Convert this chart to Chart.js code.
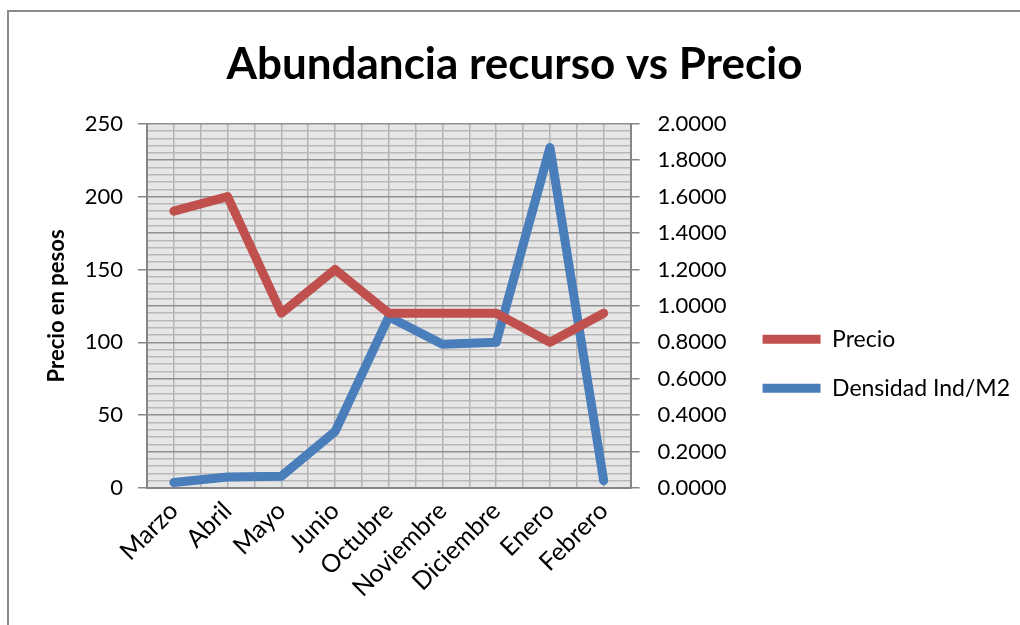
<!DOCTYPE html>
<html>
<head>
<meta charset="utf-8">
<script src="https://cdn.jsdelivr.net/npm/chart.js@4.4.0/dist/chart.umd.min.js"></script>
<style>
  html, body { margin: 0; padding: 0; background: #fff; overflow: hidden; }
  .frame {
    position: absolute; left: 7px; top: 10px;
    width: 1030px; height: 640px;
    border: 2px solid #8a8a8a; box-sizing: border-box;
  }
  .wrap { position: absolute; left: 0; top: 0; width: 1011px; height: 613px; }
</style>
</head>
<body>
<div class="frame">
  <div class="wrap"><canvas id="chart"></canvas></div>
</div>
<script>
const months = ['Marzo', 'Abril', 'Mayo', 'Junio', 'Octubre', 'Noviembre', 'Diciembre', 'Enero', 'Febrero'];
const precio = [190, 200, 120, 150, 120, 120, 120, 100, 120];
const densidad = [0.03, 0.06, 0.065, 0.31, 0.94, 0.79, 0.80, 1.87, 0.04];
const precioTicks = [0, 50, 100, 150, 200, 250];
const densidadTicks = [0, 0.2, 0.4, 0.6, 0.8, 1.0, 1.2, 1.4, 1.6, 1.8, 2.0];

const FONT = 'Lato, "Open Sans", sans-serif';
const axisGray = '#868686';

const plotBackground = {
  id: 'plotBackground',
  beforeDraw(chart) {
    const a = chart.chartArea;
    const ctx = chart.ctx;
    ctx.save();
    ctx.fillStyle = '#e6e6e6';
    ctx.fillRect(a.left, a.top, a.right - a.left, a.bottom - a.top);
    ctx.restore();
  }
};

new Chart(document.getElementById('chart'), {
  type: 'line',
  data: {
    labels: months,
    datasets: [
      {
        label: 'Precio',
        data: precio,
        yAxisID: 'y',
        borderColor: '#c0504d',
        backgroundColor: '#c0504d',
        borderWidth: 9,
        borderCapStyle: 'round',
        borderJoinStyle: 'round',
        pointRadius: 0,
        tension: 0
      },
      {
        label: 'Densidad Ind/M2',
        data: densidad,
        yAxisID: 'y2',
        borderColor: '#4a7ebb',
        backgroundColor: '#4a7ebb',
        borderWidth: 9,
        borderCapStyle: 'round',
        borderJoinStyle: 'round',
        pointRadius: 0,
        tension: 0
      }
    ]
  },
  options: {
    responsive: true,
    maintainAspectRatio: false,
    animation: false,
    layout: { padding: { left: 0, right: 0, top: 0, bottom: 0 } },
    plugins: {
      title: {
        display: true,
        text: 'Abundancia recurso vs Precio',
        color: '#000',
        font: { family: FONT, size: 44, weight: 'bold' },
        padding: { top: 26, bottom: 33 }
      },
      legend: {
        position: 'right',
        align: 'center',
        maxWidth: 400,
        title: { display: true, text: '', padding: { top: 0, bottom: 76 } },
        labels: {
          color: '#000',
          font: { family: FONT, size: 23 },
          usePointStyle: true,
          pointStyle: 'line',
          pointStyleWidth: 58,
          boxHeight: 9,
          padding: 26
        }
      },
      tooltip: { enabled: false }
    },
    scales: {
      x: {
        type: 'category',
        offset: true,
        grid: { offset: true, color: '#b3b3b3', lineWidth: 1.5, drawTicks: false },
        border: { color: axisGray, width: 2 },
        ticks: {
          color: '#000',
          font: { family: FONT, size: 25 },
          maxRotation: 45, minRotation: 45,
          autoSkip: false,
          padding: 8
        },
        afterFit(s) { s.height = 137; }
      },
      xMinor: {
        type: 'category',
        offset: true,
        display: true,
        grid: { offset: false, color: '#b3b3b3', lineWidth: 1.5, drawTicks: false },
        border: { display: false },
        ticks: { display: false },
        afterFit(s) { s.height = 0; }
      },
      y: {
        type: 'linear',
        position: 'left',
        min: 0, max: 250,
        afterBuildTicks(s) { s.ticks = precioTicks.map(v => ({ value: v })); },
        grid: { drawOnChartArea: false, drawTicks: true, tickLength: 9, color: axisGray, lineWidth: 1.5 },
        border: { color: axisGray, width: 2 },
        ticks: { color: '#000', font: { family: FONT, size: 22 }, padding: 15 },
        title: {
          display: true,
          text: 'Precio en pesos',
          color: '#000',
          font: { family: FONT, size: 22, weight: 'bold' },
          padding: { top: 35, bottom: 0 }
        },
        afterFit(s) { s.width = 138; }
      },
      yMinor: {
        type: 'linear',
        position: 'left',
        min: 0, max: 2,
        display: true,
        ticks: { display: false, stepSize: 0.04, maxTicksLimit: 100, autoSkip: false },
        grid: {
          drawTicks: false,
          lineWidth: 1.5,
          color(ctx) { return ctx.index % 5 === 0 ? '#8f8f8f' : '#b8b8b8'; }
        },
        border: { display: false },
        afterFit(s) { s.width = 0; }
      },
      y2: {
        type: 'linear',
        position: 'right',
        min: 0, max: 2,
        afterBuildTicks(s) { s.ticks = densidadTicks.map(v => ({ value: v })); },
        grid: { drawOnChartArea: false, drawTicks: true, tickLength: 9, color: axisGray, lineWidth: 1.5 },
        border: { color: axisGray, width: 2 },
        ticks: {
          color: '#000',
          font: { family: FONT, size: 22 },
          padding: 18,
          callback: v => Number(v).toFixed(4)
        },
        afterFit(s) { s.width = 106; }
      }
    }
  },
  plugins: [plotBackground]
});
</script>
</body>
</html>
